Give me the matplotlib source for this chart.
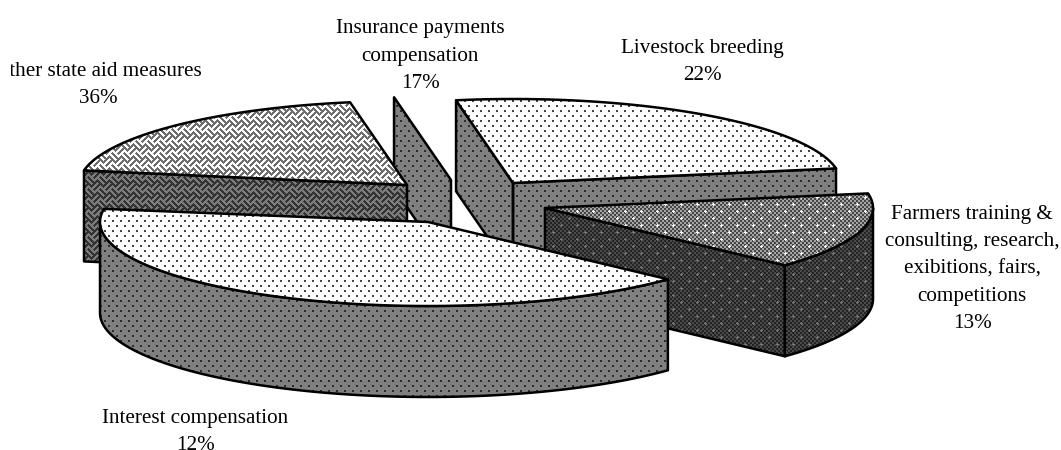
import numpy as np
import matplotlib
matplotlib.use('Agg')
import matplotlib.pyplot as plt
from matplotlib.patches import Polygon, Rectangle

# what the labels say
slice_names = ['Other state aid measures', 'Insurance payments\ncompensation', 'Livestock breeding',
               'Farmers training &\nconsulting, research,\nexibitions, fairs,\ncompetitions', 'Interest compensation']
slice_pcts = [36, 17, 22, 13, 12]

# angle each slice takes up in the drawing (does not follow the labels), going clockwise
slice_degrees = [70, 0, 90, 53, 146]
start_angle = 170

# layout, in pixels
W, H = 1061, 450
center = (450, 196)
rx, ry, depth = 328, 84, 91
explode_x = [-43, 1, 63, 95, -22]
explode_y = [-11, -16, -13, 12, 26]
label_x = [98, 420, 702, 972, 195]
label_y = [85, 56, 62, 269, 432]
draw_order = [1, 0, 2, 3, 4]


def dots(dark, light):
    """Staggered dots on a flat background."""
    yy, xx = np.mgrid[0:H, 0:W]
    img = np.full((H, W), light, dtype=float)
    u = (xx + (yy // 5) * 4) % 8
    v = yy % 5
    img[(u < 2) & (v < 2)] = dark
    return img


def weave(dark, light):
    """Diagonal basket weave, two strokes in each cell."""
    yy, xx = np.mgrid[0:H, 0:W]
    size = 12
    u, v = xx + yy, xx - yy + 720
    even = ((u // size) + (v // size)) % 2 == 0
    img = np.full((H, W), light, dtype=float)
    img[even & (v % (size // 2) < 3)] = dark
    img[~even & (u % (size // 2) < 3)] = dark
    return img


def check_dots(dark, light, dot):
    """Fine checker with brighter dots on it."""
    yy, xx = np.mgrid[0:H, 0:W]
    img = np.where(((xx // 2) + (yy // 2)) % 2 == 0, dark, light).astype(float)
    u = (xx + (yy // 7) * 8) % 16
    v = yy % 7
    img[((u < 3) & (v == 1)) | ((u == 1) & (v < 3))] = dot
    return img


textures = {
    'dot_top': dots(70, 255),
    'dot_wall': dots(45, 128),
    'weave_top': weave(110, 255),
    'weave_wall': weave(50, 125),
    'check_top': check_dots(70, 165, 255),
    'check_wall': check_dots(35, 75, 120),
}
top_tex = ['weave_top', 'dot_top', 'dot_top', 'check_top', 'dot_top']
wall_tex = ['weave_wall', 'dot_wall', 'dot_wall', 'check_wall', 'dot_wall']


def rim(cx, cy, angles):
    a = np.radians(angles)
    return np.column_stack([cx + rx * np.cos(a), cy - ry * np.sin(a)])


def fill(ax, pts, tex, z):
    patch = Polygon(pts, closed=True, facecolor='none', edgecolor='black', lw=1.8, joinstyle='round', zorder=z + 0.5)
    ax.add_patch(patch)
    im = ax.imshow(textures[tex], cmap='gray', vmin=0, vmax=255, extent=(0, W, H, 0),
                   interpolation='bilinear', zorder=z)
    im.set_clip_path(patch)


def radial_wall(ax, i, apex, angle, z):
    cx, cy = apex[0]
    end = rim(cx, cy, [angle])
    drop = np.array([0, depth])
    fill(ax, np.vstack([apex, end, end + drop, apex + drop]), wall_tex[i], z)


def draw_slice(ax, i, a0, a1, z):
    cx, cy = center[0] + explode_x[i], center[1] + explode_y[i]
    apex = np.array([[cx, cy]])
    drop = np.array([0, depth])

    # a cut face shows only when it turns down towards the viewer
    if np.cos(np.radians(a0)) < 0:
        radial_wall(ax, i, apex, a0, z)
    if np.cos(np.radians(a1)) > 0:
        radial_wall(ax, i, apex, a1, z)

    # outer wall, only the front half of the rim
    lo, hi = max(a1, -180), min(a0, 0)
    if lo < hi:
        edge = rim(cx, cy, np.linspace(hi, lo, 80))
        fill(ax, np.vstack([edge, (edge + drop)[::-1]]), wall_tex[i], z + 1)

    # top
    if a0 != a1:
        edge = rim(cx, cy, np.linspace(a0, a1, 120))
        fill(ax, np.vstack([apex, edge]), top_tex[i], z + 2)


fig = plt.figure(figsize=(W / 100, H / 100), dpi=100)
ax = fig.add_axes([0, 0, 1, 1])

angles = start_angle - np.concatenate([[0], np.cumsum(slice_degrees)])
for z, i in enumerate(draw_order):
    draw_slice(ax, i, angles[i], angles[i + 1], 10 * (z + 1))

ax.set_xlim(0, W)
ax.set_ylim(H, 0)
ax.set_aspect('auto')
ax.axis('off')

for i, name in enumerate(slice_names):
    t = ax.text(label_x[i], label_y[i], f'{name}\n{slice_pcts[i]}%', ha='center', va='center', multialignment='center',
                family='Liberation Serif', fontsize=15.2, linespacing=1.58, color='black', zorder=100)
    if i == 0:
        # the original cuts this label off on the left
        t.set_clip_path(Rectangle((11, 0), W, H, transform=ax.transData))
        t.set_clip_on(True)

fig.savefig('out.png', dpi=100)
